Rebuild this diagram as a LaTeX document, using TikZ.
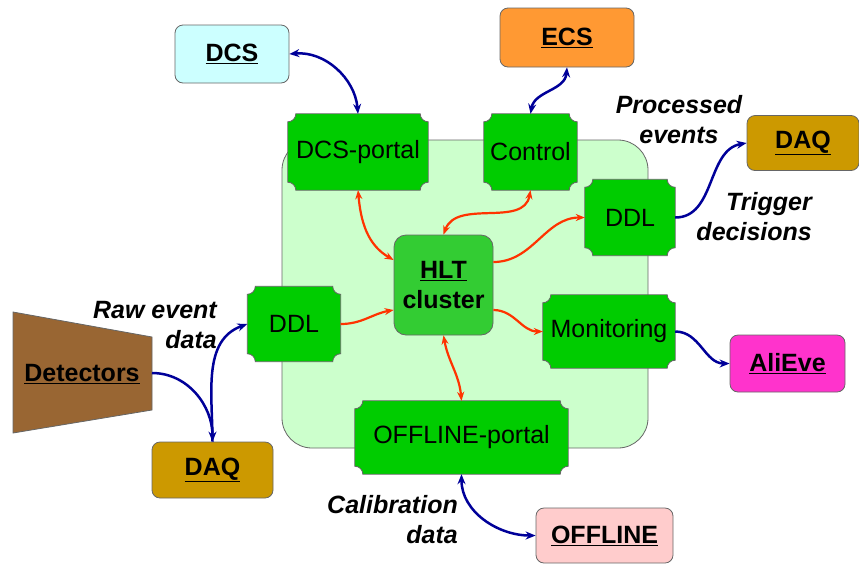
\documentclass[tikz,border=0pt]{standalone}
\usepackage{fontspec}
\setmainfont{Liberation Sans}
\usetikzlibrary{arrows.meta,calc}
\pgfdeclarelayer{bg}\pgfdeclarelayer{mid}\pgfsetlayers{bg,mid,main}
\definecolor{portalgreen}{HTML}{00CC00}
\definecolor{hltgreen}{HTML}{33CC33}
\definecolor{areagreen}{HTML}{CCFFCC}
\definecolor{daqgold}{HTML}{CC9900}
\definecolor{ecsorange}{HTML}{FF9933}
\definecolor{dcscyan}{HTML}{CCFFFF}
\definecolor{offpink}{HTML}{FFCCCC}
\definecolor{alimag}{HTML}{FF33CC}
\definecolor{detbrown}{HTML}{996633}
\definecolor{linkblue}{HTML}{000099}
\definecolor{linkred}{HTML}{FF3300}
\definecolor{edgegray}{HTML}{666666}
\newcommand\notchbox[1]{%
  \begin{pgfonlayer}{mid}
  \path[notchfill] ([xshift=8pt]#1.north west) -- ([xshift=-8pt]#1.north east)
    arc[start angle=180,end angle=270,radius=8pt] -- ([yshift=8pt]#1.south east)
    arc[start angle=90,end angle=180,radius=8pt] -- ([xshift=8pt]#1.south west)
    arc[start angle=0,end angle=90,radius=8pt] -- ([yshift=-8pt]#1.north west)
    arc[start angle=270,end angle=360,radius=8pt] -- cycle;
  \end{pgfonlayer}}
\tikzset{
  ext/.style={draw=edgegray, line width=0.8pt, rounded corners=8pt,
    font=\fontsize{25}{29}\selectfont\bfseries, text=black, inner sep=0pt},
  portal/.style={font=\fontsize{25}{29}\selectfont, inner sep=0pt, text=black},
  notchfill/.style={fill=portalgreen, draw=edgegray, line width=0.8pt},
  hltbox/.style={draw=edgegray, line width=0.8pt, fill=hltgreen, rounded corners=12pt,
    font=\fontsize{25}{30}\selectfont\bfseries, align=center, inner sep=0pt},
  areabox/.style={draw=edgegray, line width=0.8pt, fill=areagreen, rounded corners=30pt, inner sep=0pt},
  lbl/.style={font=\fontsize{25}{30}\selectfont\bfseries\itshape, inner sep=0pt},
  tipb/.tip={Stealth[length=10pt,width=8pt]},
  tipr/.tip={Stealth[length=9pt,width=7pt]},
  bluelink/.style={draw=linkblue, line width=2.5pt},
  redlink/.style={draw=linkred, line width=2.2pt},
}
\begin{document}
\begin{tikzpicture}[x=1pt,y=1pt]
\useasboundingbox (0,0) rectangle (859,-566);
% container
\begin{pgfonlayer}{bg}
\node[areabox, minimum width=366pt, minimum height=308pt] (area) at (465,-294) {};
\end{pgfonlayer}
% external boxes
\node[ext, fill=dcscyan, minimum width=114pt, minimum height=58pt] (dcs) at (232,-54) {\underline{DCS}};
\node[ext, fill=ecsorange, minimum width=134pt, minimum height=59pt] (ecs) at (567,-37.5) {\underline{ECS}};
\node[ext, fill=daqgold, minimum width=112pt, minimum height=55pt] (daqout) at (803,-143) {\underline{DAQ}};
\node[ext, fill=alimag, minimum width=115pt, minimum height=57pt] (alieve) at (787.5,-363.5) {\underline{AliEve}};
\node[ext, fill=daqgold, minimum width=121pt, minimum height=56pt] (daqin) at (212.5,-470) {\underline{DAQ}};
\node[ext, fill=offpink, minimum width=137pt, minimum height=55pt] (offline) at (604.5,-535.5) {\underline{OFFLINE}};
% detectors
\path[fill=detbrown, draw=edgegray, line width=0.8pt] (13,-312) -- (152,-337) -- (152,-410) -- (13,-433) -- cycle;
\node[font=\fontsize{25}{29}\selectfont\bfseries, inner sep=0pt] (det) at (82,-374) {\underline{Detectors}};
\coordinate (detR) at (152,-373);
% portals
\node[portal, minimum width=140pt, minimum height=76pt] (dcsp) at (358,-152) {DCS-portal};
\node[portal, minimum width=93pt, minimum height=76pt] (ctrl) at (530.5,-152) {Control};
\node[portal, minimum width=90pt, minimum height=76pt] (ddlr) at (630,-217.5) {DDL};
\node[portal, minimum width=132pt, minimum height=73pt] (mon) at (609,-331.5) {Monitoring};
\node[portal, minimum width=93pt, minimum height=75pt] (ddll) at (294,-324) {DDL};
\node[portal, minimum width=213pt, minimum height=73pt] (offp) at (461.5,-437.5) {OFFLINE-portal};
\notchbox{dcsp}\notchbox{ctrl}\notchbox{ddlr}\notchbox{mon}\notchbox{ddll}\notchbox{offp}
\node[hltbox, minimum width=99pt, minimum height=100pt] (hlt) at (443.5,-285) {\underline{HLT}\\cluster};
% blue links
\draw[bluelink, tipb-tipb] (dcs.east) to[out=5,in=95] (dcsp.north);
\draw[bluelink, tipb-tipb] (ecs.south) to[out=-95,in=80] (ctrl.north);
\draw[bluelink, -tipb] (ddlr.east) to[out=0,in=190] (daqout.west);
\draw[bluelink, -tipb] (mon.east) to[out=0,in=180] (alieve.west);
\draw[bluelink, -tipb] (detR) to[out=0,in=90] (daqin.north);
\draw[bluelink, -tipb] (daqin.north) to[out=90,in=200] (ddll.west);
\draw[bluelink, tipb-tipb] (offp.south) to[out=-90,in=180] (offline.west);
% red links
\draw[redlink, tipr-tipr] (dcsp.south) to[out=-85,in=150] ([yshift=25pt]hlt.west);
\draw[redlink, tipr-tipr] (ctrl.south) to[out=-100,in=70] (hlt.north);
\draw[redlink, -tipr] ([yshift=23pt]hlt.east) to[out=0,in=180] (ddlr.west);
\draw[redlink, -tipr] (ddll.east) to[out=0,in=190] ([yshift=-25pt]hlt.west);
\draw[redlink, -tipr] ([yshift=-25pt]hlt.east) to[out=0,in=180] (mon.west);
\draw[redlink, tipr-tipr] (hlt.south) to[out=-80,in=95] (offp.north);
% labels
\node[lbl, align=right, anchor=east] (lraw) at (217,-325) {Raw event\\data};
\node[lbl, align=center] (lproc) at (679,-120) {Processed\\events};
\node[lbl, align=right, anchor=east] (ltrig) at (812,-217) {Trigger\\decisions};
\node[lbl, align=right, anchor=east] (lcal) at (458,-520) {Calibration\\data};
\end{tikzpicture}
\end{document}
